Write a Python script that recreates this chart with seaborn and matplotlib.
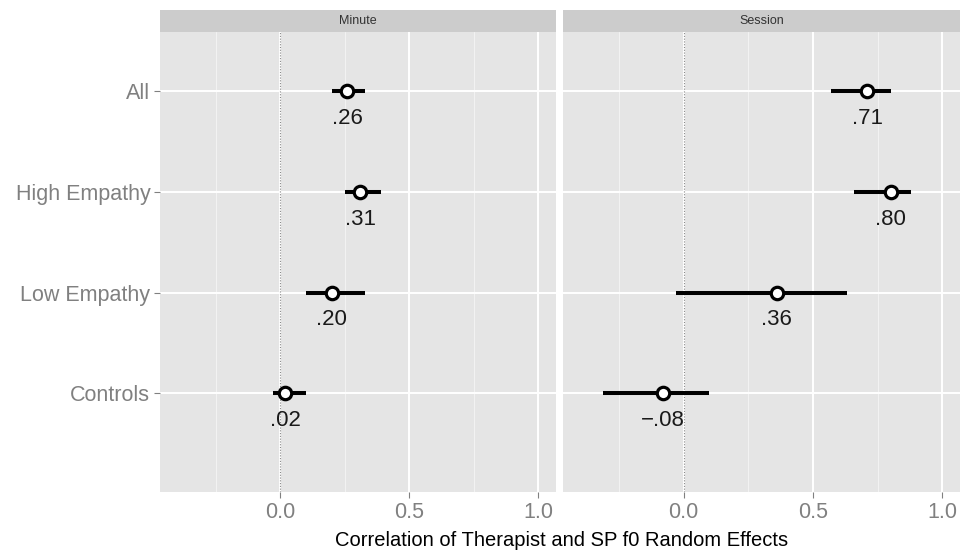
import matplotlib
matplotlib.use("Agg")
import matplotlib.pyplot as plt
import seaborn as sns
import pandas as pd
import numpy as np

categories = ["All", "High Empathy", "Low Empathy", "Controls"]
panels = ["Minute", "Session"]

minute_est = [0.26, 0.31, 0.20, 0.02]
minute_lo = [0.20, 0.25, 0.10, -0.03]
minute_hi = [0.33, 0.39, 0.33, 0.10]
minute_lab = [".26", ".31", ".20", ".02"]

session_est = [0.71, 0.80, 0.36, -0.08]
session_lo = [0.57, 0.66, -0.03, -0.31]
session_hi = [0.80, 0.88, 0.63, 0.10]
session_lab = [".71", ".80", ".36", "\u2212.08"]

x_ticks = [0.0, 0.5, 1.0]
x_tick_labels = ["0.0", "0.5", "1.0"]
x_minor = [-0.25, 0.25, 0.75]
xlabel = "Correlation of Therapist and SP f0 Random Effects"

sns.set_theme(style="white")
plt.rcParams["font.family"] = ["Liberation Sans", "DejaVu Sans"]

W, H = 963, 558
fig = plt.figure(figsize=(W / 100, H / 100), dpi=100)

panel_px = [(160, 556), (563, 960)]
top_px, bot_px, strip_top = 32, 492, 10

data = {
    "Minute": (minute_est, minute_lo, minute_hi, minute_lab),
    "Session": (session_est, session_lo, session_hi, session_lab),
}

for i, (name, (x0, x1)) in enumerate(zip(panels, panel_px)):
    ax = fig.add_axes([x0 / W, (H - bot_px) / H, (x1 - x0) / W, (bot_px - top_px) / H])
    est, lo, hi, lab = data[name]
    df = pd.DataFrame({"cat": categories, "est": est, "lo": lo, "hi": hi, "lab": lab})
    df["ypos"] = np.arange(len(categories))
    ax.set_facecolor("#E5E5E5")
    for v in x_minor:
        ax.axvline(v, color="#F2F2F2", lw=0.8, zorder=0)
    for v in x_ticks:
        ax.axvline(v, color="white", lw=1.4, zorder=0)
    for y in df["ypos"]:
        ax.axhline(y, color="white", lw=1.4, zorder=0)
    ax.axvline(0, color="#8a8a8a", lw=0.8, ls=(0, (1, 1.5)), zorder=1)
    ax.hlines(df["ypos"], df["lo"], df["hi"], color="black", lw=2.9, zorder=2)
    sns.scatterplot(data=df, x="est", y="ypos", ax=ax, s=80, color="white",
                    edgecolor="black", linewidth=2.3, zorder=3, legend=False)
    for _, r in df.iterrows():
        ax.text(r["est"], r["ypos"] + 0.27, r["lab"], ha="center", va="center",
                fontsize=16, color="#1a1a1a", zorder=4)
    ax.set_xlim(-0.466, 1.068)
    ax.set_ylim(3.98, -0.59)
    ax.set_xticks(x_ticks)
    ax.set_xticklabels(x_tick_labels)
    ax.set_yticks(df["ypos"])
    if i == 0:
        ax.set_yticklabels(categories)
    else:
        ax.set_yticklabels([])
        ax.tick_params(axis="y", length=0)
    ax.tick_params(axis="both", labelsize=15.5, labelcolor="#808080", color="#808080",
                   length=4, width=0.8, pad=3)
    ax.tick_params(axis="x", bottom=True)
    ax.tick_params(axis="y", left=(i == 0))
    ax.set_xlabel("")
    ax.set_ylabel("")
    for s in ax.spines.values():
        s.set_visible(False)
    ax.grid(False)
    # strip
    sax = fig.add_axes([x0 / W, (H - top_px) / H, (x1 - x0) / W, (top_px - strip_top) / H])
    sax.set_facecolor("#CCCCCC")
    sax.set_xticks([])
    sax.set_yticks([])
    for s in sax.spines.values():
        s.set_visible(False)
    sax.text(0.5, 0.5, name, ha="center", va="center", fontsize=9, color="#333333",
             transform=sax.transAxes)

fig.text(562 / W, 1 - 540 / H, xlabel, ha="center", va="center", fontsize=14.5, color="black")

fig.savefig("out.png", dpi=100, facecolor="white")
